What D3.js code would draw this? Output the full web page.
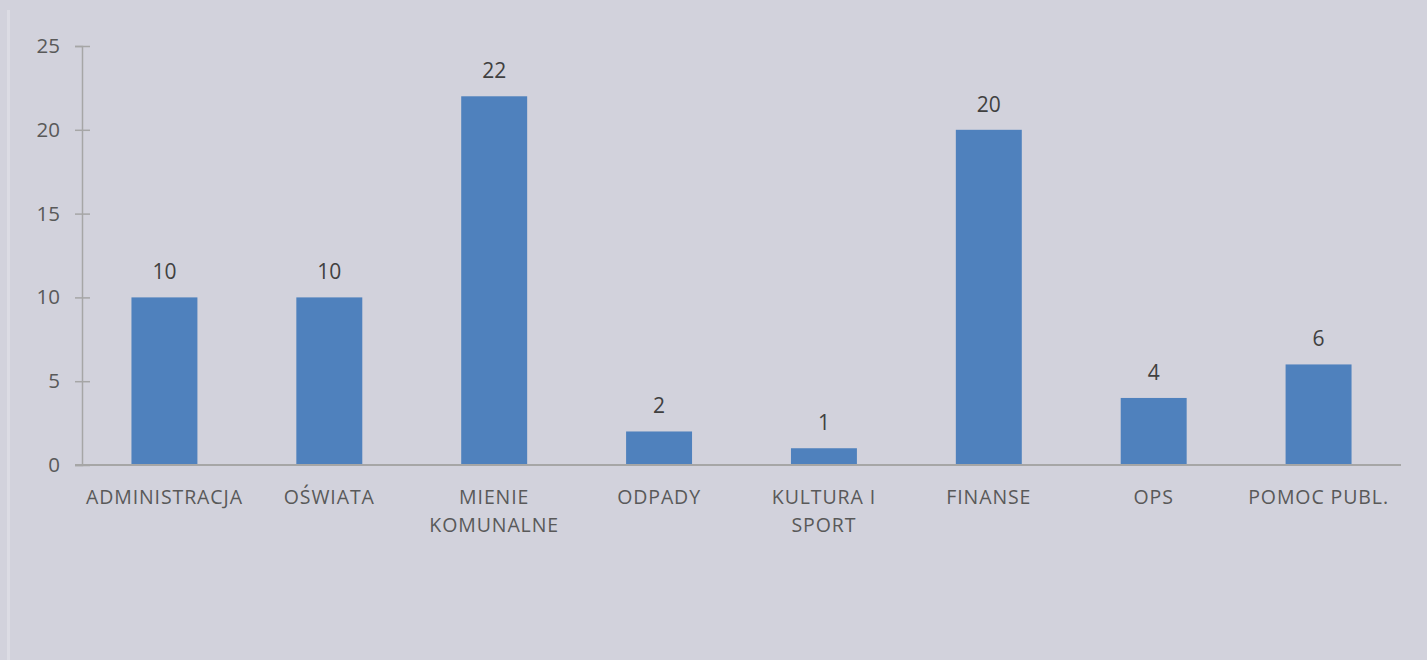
<!DOCTYPE html>
<html>
<head>
<meta charset="utf-8">
<script src="https://cdn.jsdelivr.net/npm/d3@7"></script>
<style>
  html, body { margin: 0; padding: 0; background: #d2d2dc; }
  svg { display: block; }
</style>
</head>
<body>
<svg id="chart" width="1427" height="660"></svg>
<script>
var categories = [["ADMINISTRACJA"], ["OŚWIATA"], ["MIENIE", "KOMUNALNE"], ["ODPADY"], ["KULTURA I", "SPORT"], ["FINANSE"], ["OPS"], ["POMOC PUBL."]];
var values = [10, 10, 22, 2, 1, 20, 4, 6];
var yTicks = [0, 5, 10, 15, 20, 25];

var width = 1427, height = 660;
var margin = {top: 46, left: 82, right: 26, bottom: 195};
var svg = d3.select("#chart");
var fontFam = "'Open Sans', 'DejaVu Sans', sans-serif";

svg.append("rect")
	.attr("width", width)
	.attr("height", height)
	.attr("fill", "#d2d2dc");

// faint left border line
svg.append("rect")
	.attr("x", 7)
	.attr("y", 10)
	.attr("width", 3)
	.attr("height", height - 10)
	.attr("fill", "#dcdce4");

var keys = categories.map(function(c) { return c.join(" "); });

var x = d3.scaleBand()
	.domain(keys)
	.range([margin.left, width - margin.right])
	.paddingInner(0.6)
	.paddingOuter(0.3);

var y = d3.scaleLinear()
	.domain([0, 25])
	.range([height - margin.bottom, margin.top]);

// y axis
var yAxis = svg.append("g")
	.attr("transform", "translate(" + margin.left + ",0)")
	.call(d3.axisLeft(y).tickValues(yTicks).tickSize(7).tickPadding(15));
yAxis.select(".domain").attr("stroke", "#a6a6a6").attr("stroke-width", 1.5);
yAxis.selectAll(".tick line").attr("stroke", "#a6a6a6").attr("stroke-width", 1.5).attr("x2", 8).attr("x1", -7);
yAxis.selectAll(".tick text")
	.attr("fill", "#595959")
	.attr("font-family", fontFam)
	.attr("font-size", 20.5)
	.attr("x", -22);

// bars
svg.append("g").selectAll("rect")
	.data(values)
	.join("rect")
	.attr("x", function(d, i) { return x(keys[i]); })
	.attr("y", function(d) { return y(d); })
	.attr("width", x.bandwidth())
	.attr("height", function(d) { return y(0) - y(d); })
	.attr("fill", "#4f81bd");

// x axis line
svg.append("line")
	.attr("x1", margin.left - 7)
	.attr("x2", width - margin.right)
	.attr("y1", y(0))
	.attr("y2", y(0))
	.attr("stroke", "#a6a6a6")
	.attr("stroke-width", 2);

// value labels
svg.append("g").selectAll("text")
	.data(values)
	.join("text")
	.attr("x", function(d, i) { return x(keys[i]) + x.bandwidth() / 2; })
	.attr("y", function(d) { return y(d) - 18; })
	.attr("text-anchor", "middle")
	.attr("font-family", fontFam)
	.attr("font-size", 21)
	.attr("fill", "#404040")
	.text(function(d) { return d; });

// category labels
var labels = svg.append("g").selectAll("text")
	.data(categories)
	.join("text")
	.attr("x", function(d, i) { return x(keys[i]) + x.bandwidth() / 2; })
	.attr("y", y(0) + 39)
	.attr("text-anchor", "middle")
	.attr("font-family", fontFam)
	.attr("font-size", 19.5)
	.attr("letter-spacing", 0.9)
	.attr("fill", "#595959");
labels.each(function(d) {
	var t = d3.select(this);
	d.forEach(function(line, j) {
		t.append("tspan")
			.attr("x", t.attr("x"))
			.attr("dy", j == 0 ? 0 : 28)
			.text(line);
	});
});
</script>
</body>
</html>
